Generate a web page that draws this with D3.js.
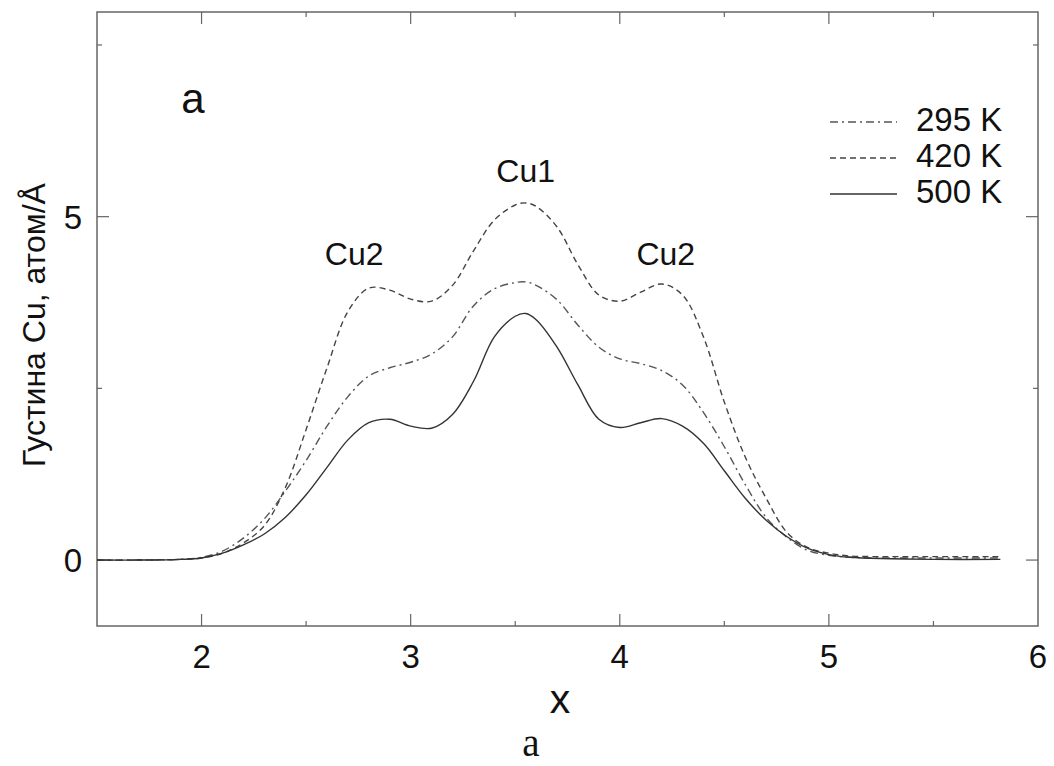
<!DOCTYPE html>
<html>
<head>
<meta charset="utf-8">
<script src="https://cdn.jsdelivr.net/npm/d3@7"></script>
<style>
  body { margin: 0; background: #fff; }
  svg { display: block; font-family: Arial, "Liberation Sans", sans-serif; }
</style>
</head>
<body>
<svg id="chart" width="1054" height="766"></svg>
<script>
// shared x grid (reduced coordinate)
const xs = [1.5, 1.7, 1.9, 2.0, 2.1, 2.2, 2.3, 2.4, 2.5, 2.6, 2.7, 2.8, 2.9, 3.0, 3.1, 3.2, 3.3, 3.4, 3.5, 3.55,
            3.6, 3.7, 3.8, 3.9, 4.0, 4.1, 4.2, 4.3, 4.4, 4.5, 4.6, 4.7, 4.8, 4.9, 5.0, 5.1, 5.3, 5.5, 5.82];

// Cu density, atom/Å
const y295 = [0, 0, 0.01, 0.04, 0.13, 0.32, 0.6, 1.0, 1.45, 1.95, 2.38, 2.68, 2.8, 2.88, 3.0, 3.25, 3.7, 3.95, 4.04, 4.05,
              4.0, 3.79, 3.42, 3.1, 2.93, 2.86, 2.76, 2.55, 2.15, 1.65, 1.1, 0.62, 0.33, 0.14, 0.07, 0.04, 0.03, 0.03, 0.03];
const y420 = [0, 0, 0.01, 0.03, 0.1, 0.25, 0.5, 1.05, 1.9, 2.8, 3.62, 3.96, 3.93, 3.8, 3.77, 4.0, 4.5, 4.95, 5.17, 5.2,
              5.15, 4.85, 4.3, 3.86, 3.77, 3.9, 4.02, 3.86, 3.25, 2.3, 1.5, 0.9, 0.4, 0.18, 0.1, 0.06, 0.05, 0.05, 0.05];
const y500 = [0, 0, 0.01, 0.03, 0.1, 0.22, 0.38, 0.62, 0.95, 1.35, 1.75, 2.0, 2.05, 1.95, 1.92, 2.12, 2.6, 3.25, 3.55, 3.59,
              3.5, 3.1, 2.55, 2.05, 1.93, 2.0, 2.06, 1.95, 1.7, 1.3, 0.9, 0.58, 0.34, 0.17, 0.08, 0.04, 0.02, 0.01, 0.01];

const seriesNames = ["295 K", "420 K", "500 K"];
const seriesValues = [y295, y420, y500];
const seriesDash = ["8,4,2,4", "6,4", null];
const seriesColor = ["#555", "#444", "#333"];

const xMajor = [2, 3, 4, 5, 6];
const xMinor = [1.5, 2.5, 3.5, 4.5, 5.5];
const yMajor = [0, 5];
const yMinor = [2.5, 7.5];

const peakLabels = [
  { text: "Cu2", x: 2.73, y: 4.3 },
  { text: "Cu1", x: 3.55, y: 5.5 },
  { text: "Cu2", x: 4.22, y: 4.3 }
];

const svg = d3.select("#chart");
const m = { left: 97, right: 1038, top: 12, bottom: 626 };

const x = d3.scaleLinear().domain([1.5, 6]).range([m.left, m.right]);
const y = d3.scaleLinear().domain([-0.96, 7.98]).range([m.bottom, m.top]);

const axisColor = "#666";

// frame
svg.append("rect")
  .attr("x", m.left).attr("y", m.top)
  .attr("width", m.right - m.left).attr("height", m.bottom - m.top)
  .attr("fill", "none").attr("stroke", axisColor).attr("stroke-width", 1.5);

// inward ticks on all four sides
function ticksX(vals, len) {
  svg.append("g").selectAll("line").data(vals).join("line")
    .attr("x1", d => x(d)).attr("x2", d => x(d))
    .attr("y1", m.bottom).attr("y2", m.bottom - len)
    .attr("stroke", axisColor).attr("stroke-width", 1.2);
  svg.append("g").selectAll("line").data(vals).join("line")
    .attr("x1", d => x(d)).attr("x2", d => x(d))
    .attr("y1", m.top).attr("y2", m.top + len)
    .attr("stroke", axisColor).attr("stroke-width", 1.2);
}
function ticksY(vals, len) {
  svg.append("g").selectAll("line").data(vals).join("line")
    .attr("y1", d => y(d)).attr("y2", d => y(d))
    .attr("x1", m.left).attr("x2", m.left + len)
    .attr("stroke", axisColor).attr("stroke-width", 1.2);
  svg.append("g").selectAll("line").data(vals).join("line")
    .attr("y1", d => y(d)).attr("y2", d => y(d))
    .attr("x1", m.right).attr("x2", m.right - len)
    .attr("stroke", axisColor).attr("stroke-width", 1.2);
}
ticksX(xMajor.filter(d => d < 6), 12);
ticksX(xMinor.filter(d => d > 1.5), 5);
ticksY(yMajor, 12);
ticksY(yMinor, 5);

// tick labels
svg.append("g").selectAll("text").data(xMajor).join("text")
  .attr("x", d => x(d)).attr("y", 668)
  .attr("text-anchor", "middle").attr("font-size", 33).attr("fill", "#111")
  .text(d => d);
svg.append("g").selectAll("text").data(yMajor).join("text")
  .attr("x", 82).attr("y", d => y(d) + 12)
  .attr("text-anchor", "end").attr("font-size", 33).attr("fill", "#111")
  .text(d => d);

// axis titles
svg.append("text")
  .attr("x", 560).attr("y", 713)
  .attr("text-anchor", "middle").attr("font-size", 41).attr("fill", "#111")
  .text("x");
svg.append("text")
  .attr("transform", "translate(45,325) rotate(-90)")
  .attr("text-anchor", "middle").attr("font-size", 32).attr("fill", "#111")
  .text("Густина Cu, атом/Å");

// curves
const line = d3.line()
  .x((d, i) => x(xs[i]))
  .y(d => y(d))
  .curve(d3.curveCatmullRom.alpha(0.5));

seriesValues.forEach((vals, i) => {
  svg.append("path")
    .datum(vals)
    .attr("d", line)
    .attr("fill", "none")
    .attr("stroke", seriesColor[i])
    .attr("stroke-width", 1.4)
    .attr("stroke-dasharray", seriesDash[i]);
});

// peak labels
svg.append("g").selectAll("text").data(peakLabels).join("text")
  .attr("x", d => x(d.x)).attr("y", d => y(d.y))
  .attr("text-anchor", "middle").attr("font-size", 32).attr("fill", "#111")
  .text(d => d.text);

// panel letter
svg.append("text")
  .attr("x", 193).attr("y", 113)
  .attr("text-anchor", "middle").attr("font-size", 42).attr("fill", "#111")
  .text("a");

// legend
const legend = svg.append("g").selectAll("g").data(seriesNames).join("g")
  .attr("transform", (d, i) => `translate(0,${i * 36})`);
legend.append("line")
  .attr("x1", 830).attr("x2", 897).attr("y1", 122).attr("y2", 122)
  .attr("stroke", (d, i) => seriesColor[i])
  .attr("stroke-width", 1.4)
  .attr("stroke-dasharray", (d, i) => seriesDash[i]);
legend.append("text")
  .attr("x", 916).attr("y", 131)
  .attr("font-size", 33).attr("fill", "#111")
  .text(d => d);

// caption below chart
svg.append("text")
  .attr("x", 531).attr("y", 756)
  .attr("text-anchor", "middle")
  .attr("font-family", "'Liberation Serif', 'Times New Roman', serif")
  .attr("font-size", 39).attr("fill", "#111")
  .text("a");
</script>
</body>
</html>
